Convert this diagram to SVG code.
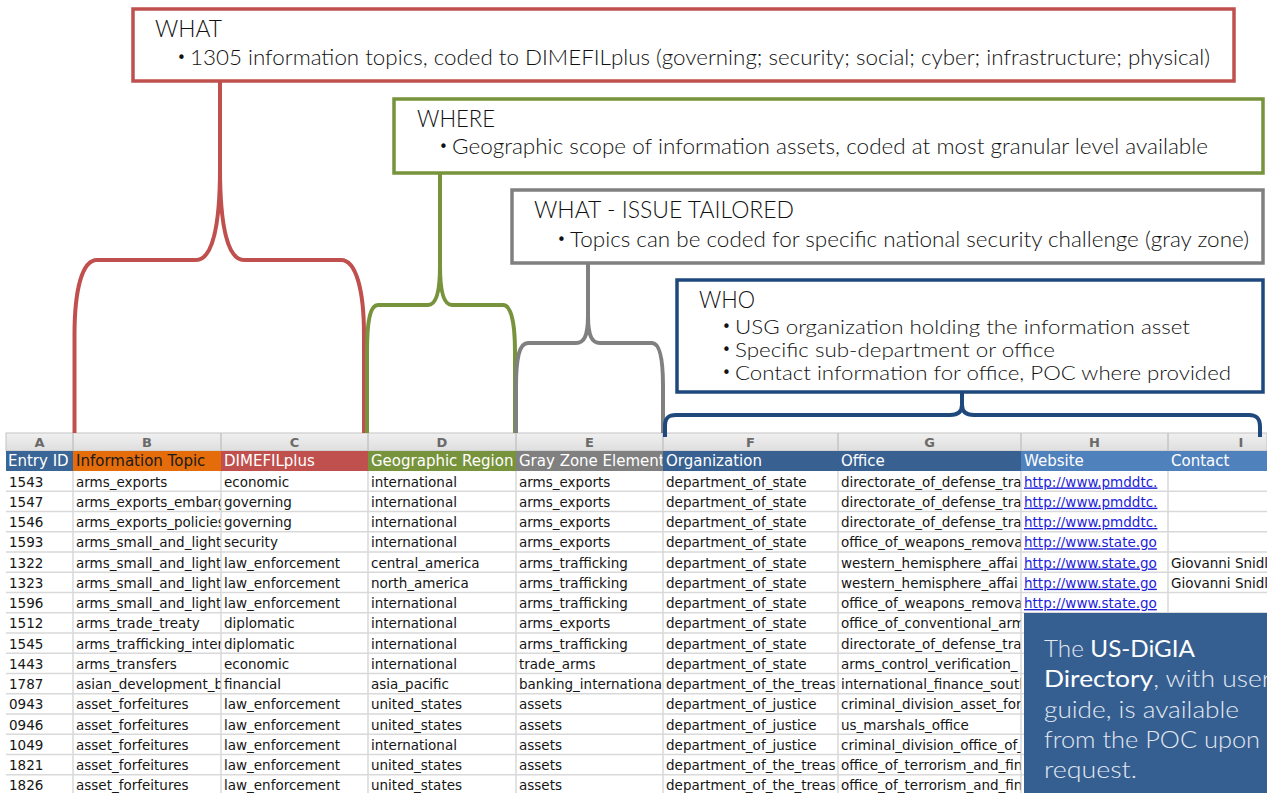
<svg xmlns="http://www.w3.org/2000/svg" width="1267" height="793" viewBox="0 0 1267 793">
<style>
.cell{font-family:"DejaVu Sans","Liberation Sans",sans-serif;font-size:13.5px;fill:#151515}
.hdr{font-family:"DejaVu Sans","Liberation Sans",sans-serif;font-size:15px;fill:#fff}
.let{font-family:"DejaVu Sans","Liberation Sans",sans-serif;font-size:13px;font-weight:bold;fill:#6a6a6a;text-anchor:middle}
.link{fill:#1d1dd8;text-decoration:underline}
.grid{stroke:#d9d9d9;stroke-width:1.5}
.box{fill:#fff;stroke-width:3.5}
.ttl{font-family:Lato,"Open Sans","Liberation Sans",sans-serif;font-weight:300;font-size:23px;fill:#111}
.bul{font-family:Lato,"Open Sans","Liberation Sans",sans-serif;font-weight:300;font-size:21px;fill:#111}
.sm{font-size:19px}
.dot{font-family:"DejaVu Sans",sans-serif;font-size:15px;fill:#111}
.br{fill:none;stroke-width:4}
.dg{font-family:Lato,"Open Sans","Liberation Sans",sans-serif;font-weight:300;font-size:23px;fill:#e3e9f2}
.dgb{font-weight:400;fill:#fff}
</style>
<defs>
<linearGradient id="lg" x1="0" y1="0" x2="0" y2="1"><stop offset="0" stop-color="#f0f0f0"/><stop offset="1" stop-color="#dedede"/></linearGradient>
<clipPath id="cA"><rect x="6" y="430" width="66.5" height="363"/></clipPath>
<clipPath id="cB"><rect x="73" y="430" width="147.5" height="363"/></clipPath>
<clipPath id="cC"><rect x="221" y="430" width="146.5" height="363"/></clipPath>
<clipPath id="cD"><rect x="368" y="430" width="147.5" height="363"/></clipPath>
<clipPath id="cE"><rect x="516" y="430" width="146.5" height="363"/></clipPath>
<clipPath id="cF"><rect x="663" y="430" width="174.5" height="363"/></clipPath>
<clipPath id="cG"><rect x="838" y="430" width="182.5" height="363"/></clipPath>
<clipPath id="cH"><rect x="1021" y="430" width="146.5" height="363"/></clipPath>
<clipPath id="cI"><rect x="1168" y="430" width="99" height="363"/></clipPath>
</defs>
<rect x="0" y="0" width="1267" height="793" fill="#fff"/>

<g id="table">
<rect x="6" y="433" width="1261" height="18" fill="url(#lg)" stroke="#c4c4c4" stroke-width="1"/>
<g stroke="#c4c4c4" stroke-width="1.5">
<line x1="73" y1="433" x2="73" y2="451"/><line x1="221" y1="433" x2="221" y2="451"/><line x1="368" y1="433" x2="368" y2="451"/><line x1="516" y1="433" x2="516" y2="451"/><line x1="663" y1="433" x2="663" y2="451"/><line x1="838" y1="433" x2="838" y2="451"/><line x1="1021" y1="433" x2="1021" y2="451"/><line x1="1168" y1="433" x2="1168" y2="451"/>
</g>
<text class="let" x="39.5" y="447">A</text><text class="let" x="147" y="447">B</text><text class="let" x="294.5" y="447">C</text><text class="let" x="442" y="447">D</text><text class="let" x="589.5" y="447">E</text><text class="let" x="750.5" y="447">F</text><text class="let" x="929.5" y="447">G</text><text class="let" x="1094.5" y="447">H</text><text class="let" x="1241" y="447">I</text>

<rect x="6" y="451" width="67" height="20" fill="#3a6597"/>
<rect x="73" y="451" width="148" height="20" fill="#e46c0a"/>
<rect x="221" y="451" width="147" height="20" fill="#c0504d"/>
<rect x="368" y="451" width="148" height="20" fill="#77933c"/>
<rect x="516" y="451" width="147" height="20" fill="#808080"/>
<rect x="663" y="451" width="358" height="20" fill="#386192"/>
<rect x="1021" y="451" width="246" height="20" fill="#4f81bd"/>

<g class="grid">
<line x1="6" y1="491.25" x2="1267" y2="491.25"/><line x1="6" y1="511.5" x2="1267" y2="511.5"/><line x1="6" y1="531.75" x2="1267" y2="531.75"/><line x1="6" y1="552" x2="1267" y2="552"/><line x1="6" y1="572.25" x2="1267" y2="572.25"/><line x1="6" y1="592.5" x2="1267" y2="592.5"/><line x1="6" y1="612.75" x2="1267" y2="612.75"/><line x1="6" y1="633" x2="1267" y2="633"/><line x1="6" y1="653.25" x2="1267" y2="653.25"/><line x1="6" y1="673.5" x2="1267" y2="673.5"/><line x1="6" y1="693.75" x2="1267" y2="693.75"/><line x1="6" y1="714" x2="1267" y2="714"/><line x1="6" y1="734.25" x2="1267" y2="734.25"/><line x1="6" y1="754.5" x2="1267" y2="754.5"/><line x1="6" y1="774.75" x2="1267" y2="774.75"/>
<line x1="73" y1="471" x2="73" y2="793"/><line x1="221" y1="471" x2="221" y2="793"/><line x1="368" y1="471" x2="368" y2="793"/><line x1="516" y1="471" x2="516" y2="793"/><line x1="663" y1="471" x2="663" y2="793"/><line x1="838" y1="471" x2="838" y2="793"/><line x1="1021" y1="471" x2="1021" y2="793"/><line x1="1168" y1="471" x2="1168" y2="793"/>
</g>

<g clip-path="url(#cA)">
<text class="hdr" x="8" y="466">Entry ID</text>
<g class="cell">
<text x="9" y="486.5">1543</text><text x="9" y="506.75">1547</text><text x="9" y="527">1546</text><text x="9" y="547.25">1593</text><text x="9" y="567.5">1322</text><text x="9" y="587.75">1323</text><text x="9" y="608">1596</text><text x="9" y="628.25">1512</text><text x="9" y="648.5">1545</text><text x="9" y="668.75">1443</text><text x="9" y="689">1787</text><text x="9" y="709.25">0943</text><text x="9" y="729.5">0946</text><text x="9" y="749.75">1049</text><text x="9" y="770">1821</text><text x="9" y="790.25">1826</text>
</g></g>

<g clip-path="url(#cB)">
<text class="hdr" x="76" y="466" style="fill:#1a1a1a">Information Topic</text>
<g class="cell">
<text x="76" y="486.5">arms_exports</text><text x="76" y="506.75">arms_exports_embarg</text><text x="76" y="527">arms_exports_policies</text><text x="76" y="547.25">arms_small_and_light</text><text x="76" y="567.5">arms_small_and_light</text><text x="76" y="587.75">arms_small_and_light</text><text x="76" y="608">arms_small_and_light</text><text x="76" y="628.25">arms_trade_treaty</text><text x="76" y="648.5">arms_trafficking_inter</text><text x="76" y="668.75">arms_transfers</text><text x="76" y="689">asian_development_b</text><text x="76" y="709.25">asset_forfeitures</text><text x="76" y="729.5">asset_forfeitures</text><text x="76" y="749.75">asset_forfeitures</text><text x="76" y="770">asset_forfeitures</text><text x="76" y="790.25">asset_forfeitures</text>
</g></g>

<g clip-path="url(#cC)">
<text class="hdr" x="224" y="466">DIMEFILplus</text>
<g class="cell">
<text x="224" y="486.5">economic</text><text x="224" y="506.75">governing</text><text x="224" y="527">governing</text><text x="224" y="547.25">security</text><text x="224" y="567.5">law_enforcement</text><text x="224" y="587.75">law_enforcement</text><text x="224" y="608">law_enforcement</text><text x="224" y="628.25">diplomatic</text><text x="224" y="648.5">diplomatic</text><text x="224" y="668.75">economic</text><text x="224" y="689">financial</text><text x="224" y="709.25">law_enforcement</text><text x="224" y="729.5">law_enforcement</text><text x="224" y="749.75">law_enforcement</text><text x="224" y="770">law_enforcement</text><text x="224" y="790.25">law_enforcement</text>
</g></g>

<g clip-path="url(#cD)">
<text class="hdr" x="371" y="466">Geographic Region</text>
<g class="cell">
<text x="371" y="486.5">international</text><text x="371" y="506.75">international</text><text x="371" y="527">international</text><text x="371" y="547.25">international</text><text x="371" y="567.5">central_america</text><text x="371" y="587.75">north_america</text><text x="371" y="608">international</text><text x="371" y="628.25">international</text><text x="371" y="648.5">international</text><text x="371" y="668.75">international</text><text x="371" y="689">asia_pacific</text><text x="371" y="709.25">united_states</text><text x="371" y="729.5">united_states</text><text x="371" y="749.75">international</text><text x="371" y="770">united_states</text><text x="371" y="790.25">united_states</text>
</g></g>

<g clip-path="url(#cE)">
<text class="hdr" x="519" y="466">Gray Zone Element</text>
<g class="cell">
<text x="519" y="486.5">arms_exports</text><text x="519" y="506.75">arms_exports</text><text x="519" y="527">arms_exports</text><text x="519" y="547.25">arms_exports</text><text x="519" y="567.5">arms_trafficking</text><text x="519" y="587.75">arms_trafficking</text><text x="519" y="608">arms_trafficking</text><text x="519" y="628.25">arms_exports</text><text x="519" y="648.5">arms_trafficking</text><text x="519" y="668.75">trade_arms</text><text x="519" y="689">banking_international</text><text x="519" y="709.25">assets</text><text x="519" y="729.5">assets</text><text x="519" y="749.75">assets</text><text x="519" y="770">assets</text><text x="519" y="790.25">assets</text>
</g></g>

<g clip-path="url(#cF)">
<text class="hdr" x="666" y="466">Organization</text>
<g class="cell">
<text x="666" y="486.5">department_of_state</text><text x="666" y="506.75">department_of_state</text><text x="666" y="527">department_of_state</text><text x="666" y="547.25">department_of_state</text><text x="666" y="567.5">department_of_state</text><text x="666" y="587.75">department_of_state</text><text x="666" y="608">department_of_state</text><text x="666" y="628.25">department_of_state</text><text x="666" y="648.5">department_of_state</text><text x="666" y="668.75">department_of_state</text><text x="666" y="689">department_of_the_treas</text><text x="666" y="709.25">department_of_justice</text><text x="666" y="729.5">department_of_justice</text><text x="666" y="749.75">department_of_justice</text><text x="666" y="770">department_of_the_treas</text><text x="666" y="790.25">department_of_the_treas</text>
</g></g>

<g clip-path="url(#cG)">
<text class="hdr" x="841" y="466">Office</text>
<g class="cell">
<text x="841" y="486.5">directorate_of_defense_tra</text><text x="841" y="506.75">directorate_of_defense_tra</text><text x="841" y="527">directorate_of_defense_tra</text><text x="841" y="547.25">office_of_weapons_remova</text><text x="841" y="567.5">western_hemisphere_affai</text><text x="841" y="587.75">western_hemisphere_affai</text><text x="841" y="608">office_of_weapons_remova</text><text x="841" y="628.25">office_of_conventional_arm</text><text x="841" y="648.5">directorate_of_defense_tra</text><text x="841" y="668.75">arms_control_verification_</text><text x="841" y="689">international_finance_south</text><text x="841" y="709.25">criminal_division_asset_for</text><text x="841" y="729.5">us_marshals_office</text><text x="841" y="749.75">criminal_division_office_of_</text><text x="841" y="770">office_of_terrorism_and_fin</text><text x="841" y="790.25">office_of_terrorism_and_fin</text>
</g></g>

<g clip-path="url(#cH)">
<text class="hdr" x="1024" y="466">Website</text>
<g class="cell link">
<text x="1024" y="486.5">http://www.pmddtc.</text><text x="1024" y="506.75">http://www.pmddtc.</text><text x="1024" y="527">http://www.pmddtc.</text><text x="1024" y="547.25">http://www.state.go</text><text x="1024" y="567.5">http://www.state.go</text><text x="1024" y="587.75">http://www.state.go</text><text x="1024" y="608">http://www.state.go</text>
</g></g>

<g clip-path="url(#cI)">
<text class="hdr" x="1171" y="466">Contact</text>
<g class="cell">
<text x="1171" y="567.5">Giovanni Snidl</text><text x="1171" y="587.75">Giovanni Snidl</text>
</g></g>
</g>

<g id="connectors">
<path class="br" stroke="#c0504d" d="M74.5,433 V335 C74.5,290 82,260 97,260 H196 C212,260 220,228 220,168 V81 M220,168 C220,228 228,260 244,260 H341 C356,260 364,290 364,335 V433"/>
<path class="br" stroke="#77933c" d="M367,433 V352 C367,318 371,305 378,305 H428 C436,305 440,292 440,266 V173 M440,266 C440,292 444,305 452,305 H503 C510,305 515,318 515,352 V433"/>
<path class="br" stroke="#808080" d="M516,433 V386 C516,356 520,343 528,343 H576 C584,343 588,336 588,316 V263 M588,316 C588,336 592,343 600,343 H652 C659,343 663,356 663,386 V433"/>
<path class="br" stroke="#1f497d" d="M665,437 V426 C665,418 668,415 676,415 H950 C958,415 962,412 962,405 V392 M962,405 C962,412 966,415 974,415 H1249 C1257,415 1260,419 1260,427 V437"/>
</g>

<g id="what-box">
<rect class="box" stroke="#c0504d" x="133" y="9" width="1101" height="72"/>
<text class="ttl" x="155" y="37" textLength="67" lengthAdjust="spacingAndGlyphs">WHAT</text>
<text class="dot" x="177" y="63">•</text>
<text class="bul" x="190" y="65" textLength="1020" lengthAdjust="spacingAndGlyphs">1305 information topics, coded to DIMEFILplus (governing; security; social; cyber; infrastructure; physical)</text>
</g>

<g id="where-box">
<rect class="box" stroke="#77933c" x="394" y="99" width="869" height="74"/>
<text class="ttl" x="417" y="127" textLength="78" lengthAdjust="spacingAndGlyphs">WHERE</text>
<text class="dot" x="439" y="152">•</text>
<text class="bul" x="452" y="154" textLength="756" lengthAdjust="spacingAndGlyphs">Geographic scope of information assets, coded at most granular level available</text>
</g>

<g id="issue-box">
<rect class="box" stroke="#808080" x="512" y="190" width="751" height="73"/>
<text class="ttl" x="534" y="218" textLength="260" lengthAdjust="spacingAndGlyphs">WHAT - ISSUE TAILORED</text>
<text class="dot" x="557" y="245">•</text>
<text class="bul" x="570" y="247" textLength="679" lengthAdjust="spacingAndGlyphs">Topics can be coded for specific national security challenge (gray zone)</text>
</g>

<g id="who-box">
<rect class="box" stroke="#1f497d" x="677" y="280" width="586" height="112"/>
<text class="ttl" x="699" y="308" textLength="56" lengthAdjust="spacingAndGlyphs">WHO</text>
<text class="dot" x="722" y="332">•</text>
<text class="bul sm" x="735" y="334" textLength="455" lengthAdjust="spacingAndGlyphs">USG organization holding the information asset</text>
<text class="dot" x="722" y="355">•</text>
<text class="bul sm" x="735" y="357" textLength="320" lengthAdjust="spacingAndGlyphs">Specific sub-department or office</text>
<text class="dot" x="722" y="378">•</text>
<text class="bul sm" x="735" y="380" textLength="496" lengthAdjust="spacingAndGlyphs">Contact information for office, POC where provided</text>
</g>

<g id="digia-box">
<rect x="1024" y="613" width="243" height="180" fill="#365f91"/>
<text class="dg" x="1044" y="657" textLength="151" lengthAdjust="spacingAndGlyphs">The <tspan class="dgb">US-DiGIA</tspan></text>
<text class="dg" x="1044" y="687" textLength="227" lengthAdjust="spacingAndGlyphs"><tspan class="dgb">Directory</tspan>, with user</text>
<text class="dg" x="1044" y="718" textLength="195" lengthAdjust="spacingAndGlyphs">guide, is available</text>
<text class="dg" x="1044" y="748" textLength="216" lengthAdjust="spacingAndGlyphs">from the POC upon</text>
<text class="dg" x="1044" y="778" textLength="93" lengthAdjust="spacingAndGlyphs">request.</text>
</g>
</svg>
